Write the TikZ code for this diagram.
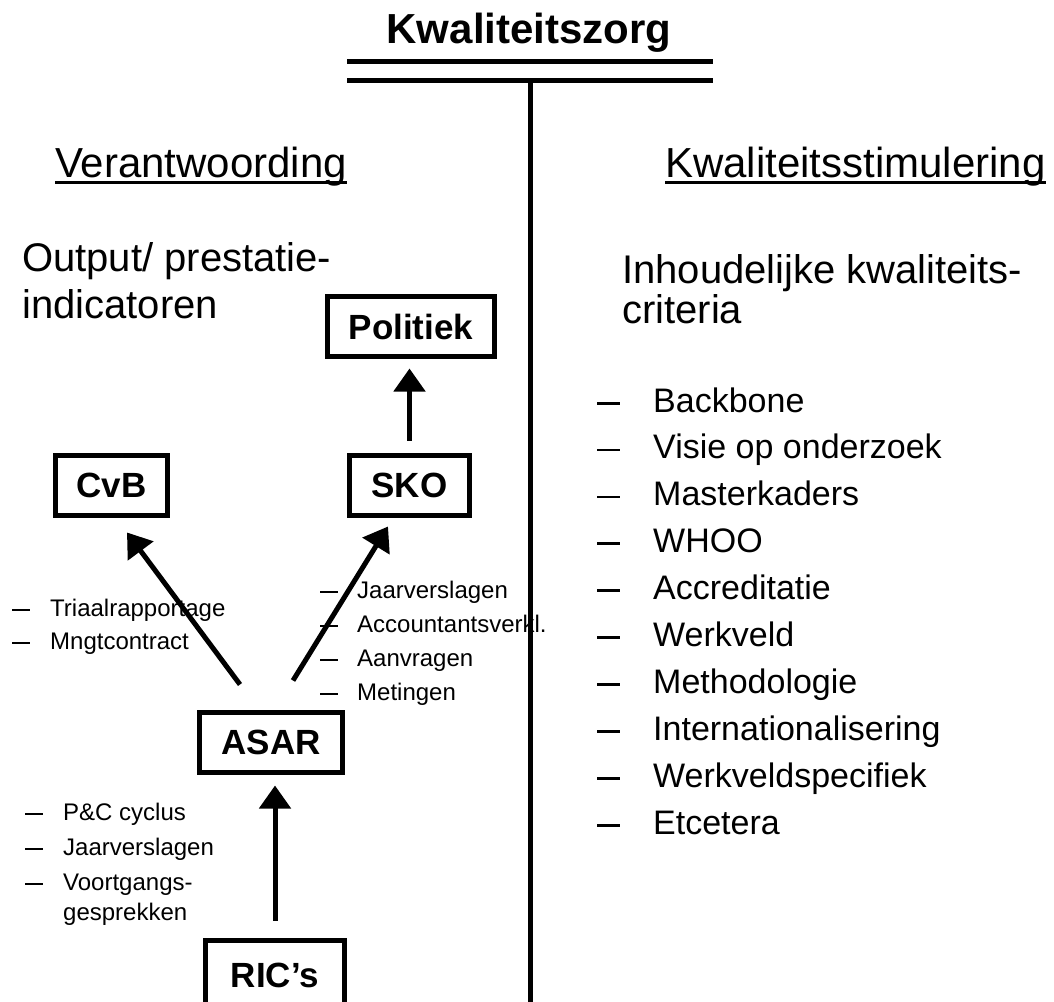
\documentclass[tikz,border=0pt]{standalone}
\usepackage{fontspec}
\setmainfont{Liberation Sans}
\usetikzlibrary{arrows.meta,positioning}

\newcommand{\fsz}[1]{\fontsize{#1}{#1}\selectfont}

\begin{document}
\begin{tikzpicture}[x=1pt,y=-1pt,
    box/.style={draw,line width=5pt,font=\fsz{35}\bfseries,inner sep=0pt},
    arr/.style={line width=5pt,-{Triangle[width=31pt,length=23pt]}},
    head/.style={font=\fsz{42},anchor=base west,inner sep=0pt},
    sub/.style={font=\fsz{40},anchor=base west,inner sep=0pt},
    crit/.style={font=\fsz{34},anchor=base west,inner sep=0pt},
    small/.style={font=\fsz{24},anchor=base west,inner sep=0pt}]
    \useasboundingbox (0,0) rectangle (1054,1001);
    % titel en scheiding
    \node[font=\fsz{42}\bfseries,anchor=base,inner sep=0pt] (titel) at (529,43) {Kwaliteitszorg};
    \draw[line width=5pt] (347,61) -- (713,61);
    \draw[line width=5pt] (347,80) -- (713,80);
    \draw[line width=5pt] (530,80) -- (530,1010);
    % kolomkoppen
    \node[head] (verant) at (55,177) {Verantwoording};
    \node[head] (stim) at (665,177) {Kwaliteitsstimulering};
    \draw[line width=3pt] ([yshift=-5pt]verant.base west) -- ([yshift=-5pt]verant.base east);
    \draw[line width=3pt] ([yshift=-5pt]stim.base west) -- ([yshift=-5pt]stim.base east);
    \node[sub] (output) at (22,271) {Output/ prestatie-};
    \node[sub] (indic) at (22,318) {indicatoren};
    \node[sub] (inhoud) at (622,283) {Inhoudelijke kwaliteits-};
    \node[sub] (criteria) at (622,323) {criteria};
    % organen
    \node[box,minimum width=167pt,minimum height=60pt] (politiek) at (411,326.5) {Politiek};
    \node[box,minimum width=120pt,minimum height=60pt] (sko) at (409.5,485.5) {SKO};
    \node[box,minimum width=112pt,minimum height=60pt] (cvb) at (111.5,485.5) {CvB};
    \node[box,minimum width=143pt,minimum height=60pt] (asar) at (271,742.5) {ASAR};
    \node[box,minimum width=139pt,minimum height=70pt] (rics) at (275,975.5) {RIC’s};
    \draw[arr,shorten <=12.5pt,shorten >=9.5pt] (sko.north) -- (sko.north |- politiek.south);
    \draw[arr,shorten <=17.5pt,shorten >=10.5pt] (rics.north) -- (rics.north |- asar.south);
    \draw[arr] ([xshift=-31pt,yshift=25.5pt]asar.north) -- ([xshift=15.5pt,yshift=-14.5pt]cvb.south);
    \draw[arr] ([xshift=22pt,yshift=29.5pt]asar.north) -- ([xshift=-21.5pt,yshift=-8.5pt]sko.south);
    % lijsten
    \foreach \txt [count=\i] in {Triaalrapportage,Mngtcontract} {
        \node[small] (cvbdash\i) at (12,{616+33*(\i-1)}) {\rule[5pt]{18pt}{2.2pt}};
        \node[small] (cvbitem\i) at (50,{616+33*(\i-1)}) {\txt};
    }
    \foreach \txt [count=\i] in {Jaarverslagen,Accountantsverkl.,Aanvragen,Metingen} {
        \node[small] (skodash\i) at (320,{598+34*(\i-1)}) {\rule[5pt]{18pt}{2.2pt}};
        \node[small] (skoitem\i) at (357,{598+34*(\i-1)}) {\txt};
    }
    \foreach \txt [count=\i] in {P\&C cyclus,Jaarverslagen,Voortgangs-} {
        \node[small] (ricdash\i) at (25,{820+35*(\i-1)}) {\rule[5pt]{18pt}{2.2pt}};
        \node[small] (ricitem\i) at (63,{820+35*(\i-1)}) {\txt};
    }
    \node[small] (ricitem4) at (63,920) {gesprekken};
    \foreach \txt [count=\i] in {Backbone,Visie op onderzoek,Masterkaders,WHOO,Accreditatie,Werkveld,Methodologie,Internationalisering,Werkveldspecifiek,Etcetera} {
        \node[crit] (critdash\i) at (597,{412+46.9*(\i-1)}) {\rule[7.5pt]{23pt}{2.8pt}};
        \node[crit] (crititem\i) at (653,{412+46.9*(\i-1)}) {\txt};
    }
\end{tikzpicture}
\end{document}
